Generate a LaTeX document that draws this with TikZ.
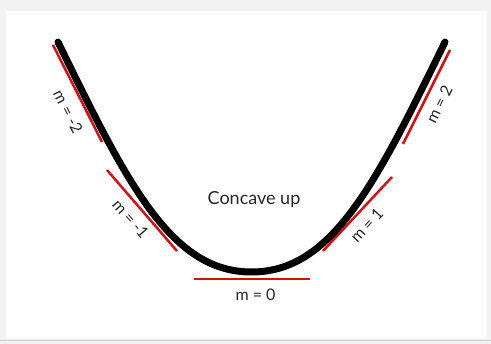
\documentclass[tikz,border=0pt]{standalone}
\usepackage{fontspec}
\setmainfont{Lato}
\definecolor{slopered}{RGB}{204,20,24}
\definecolor{labelgray}{RGB}{40,40,40}

\begin{document}
\begin{tikzpicture}[x=1pt, y=-1pt]
	\tikzstyle {tangent} = [draw = slopered, line width = 2.5pt];
	\tikzstyle {slopelabel} = [font = \fontsize{16}{18}\selectfont, text = labelgray, inner sep = 1pt];
	\useasboundingbox (0, 0) rectangle (491, 344);
	\fill[black!5] (0, 0) rectangle (491, 344);
	\fill[white] (6, 11) rectangle (487, 338);
	\draw[black!18, line width = 1.2pt] (0, 340.5) -- (491, 340.5);
	\foreach \name/\sx/\sy/\ex/\ey/\slope/\where/\gap in {neg2/53/45/102/142/-2/0.61/8.5, neg1/107/170/177/251/-1/0.49/6, zero/194/279/310/279/0/0.53/8, pos1/323/251/392/177/1/0.48/6.5, pos2/403/144/450/50/2/0.49/6.5} {
			\coordinate (\name-start) at (\sx, \sy);
			\coordinate (\name-end) at (\ex, \ey);
			\draw[tangent] (\name-start) -- (\name-end) node[slopelabel, sloped, below = \gap pt, pos = \where] (\name-label) {m = \slope};
		}
	\coordinate (leftend) at (58, 42);
	\coordinate (bottom) at (251.5, 272);
	\coordinate (rightend) at (445, 42);
	\draw[line width = 7pt, line cap = round] (leftend) .. controls (128, 185.5) and (171.5, 272) .. (bottom) .. controls (331.5, 272) and (375, 185.5) .. (rightend);
	\node[font = \fontsize{18}{21}\selectfont, text = labelgray] (concave) at (254, 200) {Concave up};
\end{tikzpicture}
\end{document}
